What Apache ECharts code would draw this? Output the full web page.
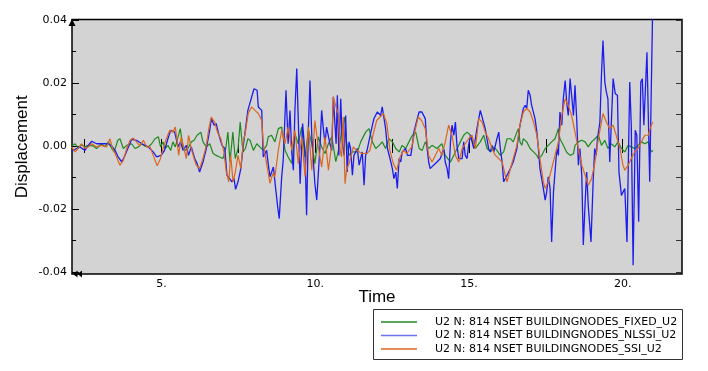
<!DOCTYPE html>
<html>
<head>
<meta charset="utf-8">
<script src="https://cdn.jsdelivr.net/npm/echarts@6/dist/echarts.min.js"></script>
<style>
html,body{margin:0;padding:0;background:#fff;}
#c{width:708px;height:371px;}
</style>
</head>
<body>
<div id="c"></div>
<script>
// ---------- data ----------
const seriesNames = [
  'U2 N: 814 NSET BUILDINGNODES_FIXED_U2',
  'U2 N: 814 NSET BUILDINGNODES_NLSSI_U2',
  'U2 N: 814 NSET BUILDINGNODES_SSI_U2'
];

const xLabelValues = [5, 10, 15, 20];
const xTickValues = [2.5, 5, 7.5, 10, 12.5, 15, 17.5, 20];
const yLabelValues = [-0.04, -0.02, 0, 0.02, 0.04];
const yMinorValues = [-0.03, -0.01, 0.01, 0.03];
const yRightTicks = [-0.04, -0.03, -0.02, -0.01, 0, 0.01, 0.02, 0.03, 0.04];

const fixedTime = [2.08,2.19,2.29,2.40,2.51,2.62,2.78,2.89,3.05,3.16,
3.27,3.38,3.46,3.58,3.65,3.76,3.87,4.03,4.14,4.25,
4.36,4.46,4.57,4.68,4.79,4.90,4.97,5.05,5.12,5.21,
5.30,5.37,5.45,5.54,5.61,5.70,5.77,5.86,5.97,6.06,
6.16,6.28,6.35,6.46,6.57,6.68,6.78,6.89,7.00,7.09,
7.16,7.23,7.32,7.40,7.49,7.56,7.65,7.73,7.81,7.88,
7.99,8.10,8.20,8.31,8.42,8.47,8.58,8.69,8.80,8.91,
9.02,9.12,9.24,9.34,9.45,9.56,9.67,9.78,9.89,9.99,
10.10,10.21,10.32,10.43,10.54,10.67,10.77,10.88,10.96,11.02,
11.10,11.21,11.37,11.48,11.64,11.75,11.86,11.97,12.08,12.18,
12.29,12.40,12.51,12.62,12.73,12.83,12.94,13.05,13.16,13.27,
13.38,13.48,13.58,13.69,13.80,13.96,14.12,14.23,14.40,14.56,
14.72,14.83,14.94,15.05,15.21,15.37,15.48,15.59,15.70,15.81,
15.91,16.02,16.13,16.24,16.35,16.44,16.56,16.61,16.66,16.72,
16.77,16.88,16.99,17.10,17.21,17.26,17.37,17.48,17.58,17.69,
17.80,17.91,17.96,18.07,18.18,18.29,18.40,18.45,18.56,18.67,
18.78,18.88,18.99,19.10,19.21,19.31,19.42,19.52,19.63,19.74,
19.85,19.96,20.07,20.18,20.28,20.39,20.50,20.61,20.72,20.83,
20.93,20.99];
const fixedU2 = [0,0.0007,-0.0006,0.0004,-0.0003,0.0002,0,-0.0008,0.0007,-0.0003,
0.0013,-0.0008,-0.0019,0.0018,0.0023,-0.0008,0.0002,0.0007,-0.0008,-0.0003,
0.0007,-0.0001,-0.0003,0.0007,0.0023,0.0029,-0.0003,0.0013,-0.0008,0.0002,
-0.0014,0.0013,-0.0003,0.0029,0.0055,-0.0003,-0.0014,-0.0008,0.0013,0.0018,
0.0034,0.0044,0.0013,-0.0003,0.0007,-0.0024,-0.003,-0.0035,-0.004,-0.0008,
0.0044,-0.0051,0.0044,-0.004,-0.0008,0.0076,-0.0019,-0.0008,0.0023,0.0018,
-0.0014,0.0007,-0.0003,-0.0014,0.0002,0.0029,0.0034,0.0013,0.0055,0.006,
-0.0014,-0.0035,-0.0056,0.0039,0.0007,0.006,-0.0035,0.005,0.0007,-0.0056,
0.0029,-0.0003,-0.0024,0.0007,0.0029,-0.005,-0.0008,0.0055,0.0092,0.0013,
-0.003,-0.0019,-0.0019,0.0013,0.0044,0.0055,0.0013,-0.0008,0.0002,0.0013,
-0.0008,0.0023,0.0013,-0.0008,-0.0019,0.0002,-0.0008,0.0013,0.0034,0.0044,
-0.0008,-0.0014,0.0013,-0.0008,0.0002,-0.0008,0.0007,-0.003,-0.0051,-0.0019,
0.0013,0.0034,0.0044,0.0034,-0.0008,0.0013,0.0034,-0.0008,-0.0019,-0.0003,
-0.0014,-0.003,-0.0019,0.0023,0.0023,0.0013,0.0044,0.0055,0.0013,0.0002,
0.0023,0.0013,-0.0008,-0.0019,-0.003,-0.004,-0.003,-0.0008,0.0002,0.0013,
0.0023,0.0055,0.0023,0.0002,-0.002,-0.003,-0.0025,0.0002,0.0013,0.0018,
0.0013,-0.0003,0.0013,0.0023,0.0034,0.0002,0.0018,-0.0008,0.0007,-0.0003,
0.0013,-0.0008,-0.0019,0.0002,-0.0003,-0.0008,0.0002,0.0013,0.0007,0.0013,
-0.0019,-0.0014];

const nlssiTime = [2.08,2.24,2.35,2.51,2.62,2.73,2.89,3.27,3.38,3.49,
3.59,3.71,3.81,4.03,4.19,4.36,4.57,4.73,4.84,4.99,
5.10,5.21,5.30,5.43,5.54,5.62,5.70,5.81,5.88,5.97,
6.08,6.16,6.24,6.35,6.46,6.57,6.62,6.71,6.78,6.87,
6.97,7.06,7.13,7.22,7.29,7.36,7.41,7.49,7.58,7.65,
7.81,8.01,8.11,8.15,8.26,8.31,8.42,8.47,8.53,8.64,
8.72,8.78,8.83,8.91,8.96,9.05,9.12,9.18,9.24,9.29,
9.34,9.40,9.45,9.51,9.59,9.67,9.72,9.78,9.83,9.89,
9.99,10.05,10.10,10.16,10.21,10.26,10.32,10.37,10.48,10.54,
10.59,10.68,10.72,10.77,10.83,10.88,10.94,10.99,11.04,11.10,
11.15,11.21,11.26,11.37,11.43,11.53,11.59,11.64,11.70,11.81,
11.91,12.02,12.13,12.18,12.24,12.29,12.35,12.46,12.51,12.56,
12.62,12.67,12.73,12.78,12.83,12.94,13.00,13.11,13.16,13.21,
13.32,13.38,13.47,13.58,13.64,13.69,13.74,13.85,13.96,14.07,
14.18,14.23,14.29,14.34,14.40,14.45,14.51,14.56,14.61,14.67,
14.78,14.83,14.88,14.94,14.99,15.05,15.16,15.26,15.37,15.43,
15.53,15.64,15.70,15.75,15.81,15.91,15.97,16.02,16.08,16.13,
16.24,16.35,16.44,16.56,16.66,16.77,16.83,16.88,16.93,16.99,
17.04,17.15,17.21,17.26,17.31,17.42,17.48,17.53,17.58,17.64,
17.69,17.75,17.80,17.86,17.91,17.96,18.02,18.07,18.13,18.18,
18.23,18.29,18.34,18.40,18.45,18.51,18.56,18.61,18.67,18.72,
18.78,18.83,18.88,18.97,19.04,19.09,19.14,19.18,19.26,19.31,
19.36,19.42,19.47,19.52,19.58,19.69,19.76,19.83,19.88,19.96,
20.07,20.14,20.23,20.28,20.34,20.41,20.46,20.52,20.59,20.64,
20.69,20.79,20.88,20.97];
const nlssiU2 = [-0.0017,-0.0008,-0.0003,-0.0014,0.0002,0.0015,0.0007,0.0007,0,-0.0014,
-0.0035,-0.0051,-0.003,0.0021,0.0018,0.0007,-0.0003,-0.0019,-0.0035,-0.003,
-0.0014,0.0023,0.005,0.0044,-0.0003,0.0013,-0.0014,0.0002,-0.003,-0.0003,
-0.004,-0.0056,-0.0083,-0.0051,-0.0008,0.005,0.0087,0.0066,0.0071,0.0034,
0.0002,-0.0008,-0.0093,-0.0104,-0.0114,-0.0104,-0.0138,-0.0114,-0.0072,-0.0008,
0.0113,0.0182,0.0177,0.0124,0.0113,-0.0035,-0.0014,-0.0056,-0.0098,-0.0067,
-0.0141,-0.0194,-0.0231,-0.0098,-0.0046,0.0177,0.0007,0.0113,-0.0024,-0.0077,
0.0113,0.0246,0.0081,-0.012,0.0071,-0.0024,-0.022,0.006,0.0208,0.0029,
-0.012,-0.0172,-0.0178,0.0007,0.0113,0.006,0.0007,0.006,0.0007,-0.0014,
0.0156,0.0007,0.0161,-0.003,0.015,0.0013,-0.003,0.0097,-0.0083,0.0013,
-0.0008,-0.0093,-0.003,-0.0008,-0.0061,-0.0019,-0.0125,-0.003,-0.0008,0.0044,
0.0087,0.0108,0.0097,0.0124,0.0119,0.0055,-0.0008,-0.0051,-0.0072,-0.0104,
-0.0083,-0.0135,-0.004,-0.0051,-0.0019,-0.0008,-0.003,-0.003,0.0002,0.0044,
0.0087,0.0108,0.0108,0.0087,-0.0008,-0.0051,-0.0072,-0.0061,-0.0051,-0.004,
-0.0008,-0.0051,-0.0072,-0.0104,0.0013,0.0066,0.0034,0.0076,0.0002,-0.004,
-0.004,0.0013,-0.003,-0.004,0.0002,0.0034,-0.0008,0.0055,0.0113,0.0108,
0.0055,-0.0008,-0.0019,0.0002,-0.0019,0.0023,0.0044,-0.0008,-0.0051,-0.0114,
-0.0093,-0.0072,-0.0051,-0.0008,0.0066,0.0119,0.0129,0.0119,0.0177,0.0161,
0.0129,0.0087,0.0044,-0.0008,-0.0072,-0.0135,-0.0172,-0.0146,-0.0098,-0.0135,
-0.0305,-0.0146,-0.0083,-0.0008,-0.003,0.0108,0.0066,0.015,0.0208,0.014,
0.0097,0.0214,0.0161,0.0097,0.0193,0.0076,-0.0061,-0.0008,-0.0093,-0.0315,
-0.0178,-0.0083,-0.0188,-0.0305,-0.0114,-0.0008,-0.003,0.0023,0.0076,0.0224,
0.0335,0.0203,0.0171,0.015,-0.0051,0.0214,0.0166,0.0161,-0.0083,-0.0157,
-0.0135,-0.0305,0.0203,0.0066,-0.0379,0.005,0.0034,-0.0241,0.0203,0.0214,
0.0066,0.0298,-0.0114,0.0405];

const ssiTime = [2.08,2.19,2.29,2.40,2.51,2.62,2.73,2.89,3.05,3.22,
3.32,3.41,3.52,3.65,3.76,3.87,3.98,4.08,4.19,4.30,
4.41,4.52,4.63,4.73,4.86,4.97,5.05,5.16,5.27,5.37,
5.45,5.51,5.56,5.64,5.73,5.81,5.88,5.97,6.06,6.13,
6.24,6.35,6.46,6.54,6.62,6.73,6.82,6.93,7.03,7.11,
7.19,7.25,7.33,7.40,7.49,7.58,7.66,7.73,7.82,7.93,
8.04,8.15,8.26,8.31,8.42,8.53,8.62,8.69,8.80,8.91,
9.02,9.12,9.24,9.34,9.45,9.56,9.67,9.78,9.89,9.99,
10.10,10.21,10.32,10.43,10.54,10.59,10.68,10.75,10.81,10.86,
10.91,10.97,11.02,11.13,11.24,11.35,11.51,11.68,11.78,11.89,
12.00,12.11,12.22,12.33,12.43,12.54,12.65,12.76,12.87,12.98,
13.14,13.25,13.35,13.46,13.58,13.69,13.80,14.02,14.12,14.23,
14.34,14.45,14.56,14.67,14.78,14.99,15.10,15.21,15.32,15.43,
15.53,15.64,15.75,15.86,15.97,16.08,16.18,16.24,16.35,16.44,
16.56,16.66,16.77,16.88,16.99,17.10,17.21,17.31,17.42,17.48,
17.58,17.69,17.80,17.91,18.02,18.13,18.23,18.34,18.45,18.56,
18.67,18.78,18.88,18.99,19.10,19.21,19.36,19.47,19.58,19.69,
19.79,19.91,20.01,20.07,20.18,20.28,20.39,20.50,20.61,20.72,
20.83,20.93,20.99];
const ssiU2 = [-0.0003,-0.0019,-0.0008,0.0007,-0.0008,-0.0003,0.0007,-0.0003,0.0002,-0.0003,
0.0023,-0.0008,-0.003,-0.0061,-0.0046,-0.0008,0.0018,0.0025,0.0013,0,
0.0018,-0.0003,-0.0003,-0.003,-0.0063,-0.004,-0.0008,0.0023,0.005,0.0044,
0.006,0.0013,-0.003,0.0029,-0.0008,-0.004,0.0034,-0.0008,-0.004,-0.0061,
-0.0072,-0.004,0.0002,0.0055,0.0092,0.0076,0.0044,0.0023,-0.0019,-0.0083,
-0.0114,-0.003,-0.0114,-0.0083,-0.003,-0.0072,0.0013,0.0044,0.0103,0.0124,
0.0113,0.0103,0.0081,0.0007,-0.0056,-0.0119,-0.0088,-0.0098,-0.0014,0.005,
0.0007,0.006,-0.0014,0.005,-0.0056,0.0029,-0.0098,0.006,-0.0077,0.0081,
-0.0003,-0.0067,0.0029,-0.0077,0.0007,0.0156,0.0124,0.0103,-0.0014,-0.0035,
0.0092,-0.012,-0.0077,-0.0046,-0.0003,-0.0014,-0.0024,-0.0024,-0.0014,0.0039,
0.0081,0.0092,0.0103,0.0071,-0.0014,-0.0056,-0.0077,-0.0035,-0.0014,-0.0024,
-0.0003,0.005,0.0092,0.0081,0.0055,-0.003,-0.0051,-0.0008,-0.003,0.0013,
0.0066,0.0034,-0.003,-0.0051,-0.0008,0.0023,0.0034,-0.0008,0.0087,0.0076,
0.0044,0.0023,-0.0008,-0.003,-0.004,-0.0051,-0.0093,-0.0114,-0.0072,-0.004,
0.0002,0.0066,0.0108,0.0119,0.0108,0.0076,0.0034,-0.004,-0.0114,-0.0135,
-0.0114,-0.0072,-0.003,0.0013,0.0097,0.015,0.0129,0.0097,0.0044,-0.0008,
-0.0061,-0.0093,-0.0125,-0.0104,-0.0051,0.0023,0.0103,0.0076,0.0055,0.0066,
0.0034,-0.0008,-0.0061,-0.0077,-0.0061,-0.004,-0.0019,-0.0008,0.0013,0.0034,
0.0034,0.0066,0.0076];

const seriesColors = ['#1f8a1f', '#1c1cee', '#dd661e'];
const legendColors = ['#1f8a1f', '#6a72f0', '#dd661e'];

// ---------- chart ----------
const chart = echarts.init(document.getElementById('c'), null, {renderer: 'canvas', width: 708, height: 371});

const xMin = 2.09, xMax = 21.93, yMin = -0.0407, yMax = 0.0402;
const tickFont = {color: '#000', fontFamily: 'DejaVu Sans', fontSize: 11};
const nameFont = {color: '#000', fontFamily: 'Liberation Sans', fontSize: 17};

function pairs(t, v) { return t.map((x, i) => [x, v[i]]); }

const option = {
  animation: false,
  backgroundColor: '#ffffff',
  grid: {left: 72, top: 19.5, width: 610, height: 254.5, show: true,
         backgroundColor: '#d3d3d3', borderColor: '#000', borderWidth: 1.5},
  xAxis: [
    {type: 'value', min: xMin, max: xMax, position: 'bottom',
     axisLine: {show: false}, splitLine: {show: false},
     axisTick: {show: true, inside: true, length: 7, customValues: xTickValues, lineStyle: {color: '#000', width: 1}},
     axisLabel: {customValues: xLabelValues, formatter: v => v + '.', margin: 5, ...tickFont},
     name: 'Time', nameLocation: 'middle', nameGap: 15, nameMoveOverlap: false, nameTextStyle: nameFont},
    {type: 'value', min: xMin, max: xMax, position: 'top',
     axisLine: {show: false}, splitLine: {show: false}, axisLabel: {show: false},
     axisTick: {show: true, inside: true, length: 7, customValues: xTickValues, lineStyle: {color: '#000', width: 1}}}
  ],
  yAxis: [
    {type: 'value', min: yMin, max: yMax, position: 'left',
     axisLine: {show: false}, splitLine: {show: false},
     axisTick: {show: true, inside: true, length: 7, customValues: yLabelValues, lineStyle: {color: '#000', width: 1}},
     axisLabel: {customValues: yLabelValues, formatter: v => v.toFixed(2), margin: 5, ...tickFont},
     name: 'Displacement', nameLocation: 'middle', nameGap: 41, nameMoveOverlap: false, nameTextStyle: nameFont},
    {type: 'value', min: yMin, max: yMax, position: 'left',
     axisLine: {show: false}, splitLine: {show: false}, axisLabel: {show: false},
     axisTick: {show: true, inside: true, length: 4, customValues: yMinorValues, lineStyle: {color: '#000', width: 1}}},
    {type: 'value', min: yMin, max: yMax, position: 'right',
     axisLine: {show: false}, splitLine: {show: false}, axisLabel: {show: false},
     axisTick: {show: true, inside: true, length: 6, customValues: yRightTicks, lineStyle: {color: '#333', width: 1}}}
  ],
  legend: {
    orient: 'vertical', left: 381, top: 315.5, padding: 0,
    itemWidth: 36, itemHeight: 1.6, itemGap: 0.5,
    data: seriesNames.map((n, i) => ({name: n, icon: 'rect', itemStyle: {color: legendColors[i]}})),
    textStyle: {color: '#000', fontFamily: 'DejaVu Sans', fontSize: 11, lineHeight: 13, padding: [0, 0, 0, 13]},
    z: 10
  },
  graphic: [
    {type: 'rect', z: 5, shape: {x: 373.5, y: 309.5, width: 309, height: 50},
     style: {fill: '#fff', stroke: '#333', lineWidth: 1}},
    {type: 'polygon', z: 20, shape: {points: [[72, 19], [68.5, 26], [75.5, 26]]}, style: {fill: '#000'}},
    {type: 'polygon', z: 20, shape: {points: [[73, 274], [77.5, 270.5], [77.5, 277.5]]}, style: {fill: '#000'}},
    {type: 'polygon', z: 20, shape: {points: [[77.5, 274], [82, 270.5], [82, 277.5]]}, style: {fill: '#000'}}
  ],
  series: [
    {name: seriesNames[0], type: 'line', symbol: 'none', clip: true, data: pairs(fixedTime, fixedU2),
     lineStyle: {color: seriesColors[0], width: 1.2}, itemStyle: {color: seriesColors[0]}},
    {name: seriesNames[1], type: 'line', symbol: 'none', clip: true, data: pairs(nlssiTime, nlssiU2),
     lineStyle: {color: seriesColors[1], width: 1.3}, itemStyle: {color: seriesColors[1]}},
    {name: seriesNames[2], type: 'line', symbol: 'none', clip: true, data: pairs(ssiTime, ssiU2),
     lineStyle: {color: seriesColors[2], width: 1.2}, itemStyle: {color: seriesColors[2]}}
  ]
};
chart.setOption(option);
</script>
</body>
</html>
